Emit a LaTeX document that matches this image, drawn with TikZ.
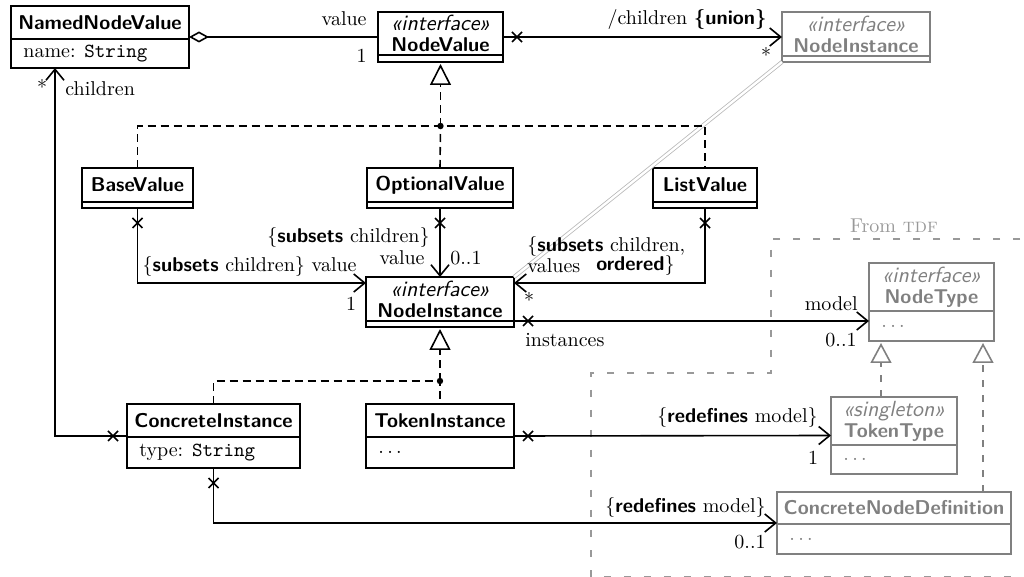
\documentclass[tikz,border=0pt]{standalone}
\usetikzlibrary{arrows.meta,calc}
\definecolor{tdfgray}{gray}{0.5}
\definecolor{framegray}{gray}{0.6}
\definecolor{linkgray}{gray}{0.72}

% A class box: name, left, top, right, divider, bottom, title, attribute
\newcommand{\umlclass}[8]{%
  \node[clsbox, minimum width={(#4-#2)*0.5pt}, minimum height={(#6-#3)*0.5pt}] (#1) at (#2,#3) {};
  \draw[line width=0.8pt] (#2,#5) -- (#4,#5);
  \node[align=center, font=\sffamily, inner sep=0pt] (#1-t) at ({(#2+#4)/2},{(#3+#5)/2}) {#7};
  \node[anchor=west, inner sep=0pt] (#1-a) at ({#2+12},{(#5+#6)/2}) {#8};
}
\newcommand{\stereo}[1]{{\fontsize{10.95}{12}\selectfont\itshape\guillemotleft#1\guillemotright}}
\newcommand{\kw}[1]{\textsf{\bfseries #1}}
\newcommand{\etc}{$\ldots$}

\begin{document}
\begin{tikzpicture}[x=0.5pt,y=-0.5pt,
  clsbox/.style={draw, line width=0.8pt, inner sep=0pt, outer sep=0pt, anchor=north west},
  lnk/.style={line width=0.8pt},
  nav/.style={lnk, -{Straight Barb[length=5.5pt,width=9pt]}},
  dsh/.style={line width=0.8pt, dash pattern=on 4pt off 2.5pt},
  realize/.style={dsh, -{Triangle[open,length=10.5pt,width=10.5pt]}, shorten >=1pt},
  grealize/.style={line width=0.8pt, dash pattern=on 3.5pt off 4pt, -{Triangle[open,length=10pt,width=10.5pt]}, shorten >=1pt},
  lbl/.style={inner sep=0pt},
  xmark/.pic={\draw[line width=0.8pt] (-5,-5) -- (5,5) (-5,5) -- (5,-5);}
]
\useasboundingbox (0,0) rectangle (1024,577);
\clip (0,0) rectangle (1024,577);

% TDF package frame
\draw[framegray, line width=0.8pt, dash pattern=on 3.5pt off 6.5pt]
  (1040,239) -- (771,239) -- (771,373) -- (591,373) -- (591,577) -- (1040,577);
\node[framegray, lbl] (tdf) at (894,226) {From \textsc{tdf}};

% classes
\umlclass{nnv}{11}{6}{189}{39}{68}{\bfseries NamedNodeValue}{name: \texttt{String}}
\umlclass{nv}{378}{12}{503}{55}{62}{\stereo{interface}\\[-1.5pt]\bfseries NodeValue}{}
\umlclass{bv}{82}{168}{193}{202}{208}{\bfseries BaseValue}{}
\umlclass{ov}{367}{168}{513}{202}{208}{\bfseries OptionalValue}{}
\umlclass{lv}{653}{168}{757}{202}{208}{\bfseries ListValue}{}
\umlclass{ni}{366}{277}{514}{321}{327}{\stereo{interface}\\[-1.5pt]\bfseries NodeInstance}{}
\umlclass{ti}{366}{404}{514}{437}{468}{\bfseries TokenInstance}{\etc}
\umlclass{ci}{127}{404}{300}{437}{468}{\bfseries ConcreteInstance}{type: \texttt{String}}
\begin{scope}[color=tdfgray]
\umlclass{gni}{782}{12}{930}{56}{62}{\stereo{interface}\\[-1.5pt]\bfseries NodeInstance}{}
\umlclass{nt}{869}{263}{994}{311}{341}{\stereo{interface}\\[-1.5pt]\bfseries NodeType}{\etc}
\umlclass{tt}{831}{397}{957}{445}{474}{\stereo{singleton}\\[-1.5pt]\bfseries TokenType}{\etc}
\umlclass{cnd}{777}{492}{1011}{524}{554}{\bfseries ConcreteNodeDefinition}{\etc}
\end{scope}

% link between the two NodeInstance boxes
\draw[linkgray, line width=0.4pt, double=white, double distance=1.2pt] (ni.north east) -- (gni.south west);

% NamedNodeValue <>-- NodeValue
\draw[lnk, {Diamond[open,length=10pt,width=5.5pt]}-] (nnv.east) -- (nv.west);
\node[lbl, anchor=east] (l-value) at ($(nv.west)+(-11,-18)$) {value};
\node[lbl, anchor=east] (l-one) at ($(nv.west)+(-11,19)$) {1};

% NodeValue -> NodeInstance (children)
\draw[nav] (nv.east) -- (gni.west);
\pic at ($(nv.east)+(14,0)$) {xmark};
\node[lbl, anchor=east] (l-children) at ($(gni.west)+(-15,-17)$) {/children \kw{\{union\}}};
\node[lbl] (l-star1) at ($(gni.west)+(-16,18)$) {*};

% realizations of NodeValue
\coordinate (j1) at ($(nv.south)+(0,64)$);
\draw[realize] (j1) -- (nv.south);
\draw[dsh] (bv.north) -- (bv.north |- j1) -- (lv.north |- j1) -- (lv.north);
\draw[dsh] (ov.north) -- (j1);
\fill (j1) circle[radius=1.6pt];

% value associations to NodeInstance
\coordinate (ni-l) at ($(ni.north west)+(0,6)$);
\coordinate (ni-r) at ($(ni.north east)+(0,6)$);
\coordinate (ni-d) at ($(ni.south east)+(0,-6)$);

\draw[nav] (bv.south) |- (ni-l);
\pic at ($(bv.south)+(0,15)$) {xmark};
\node[lbl, anchor=east] (l-bv) at ($(ni-l)+(-9,-16)$) {\{\kw{subsets} children\} value};
\node[lbl] (l-bv1) at ($(ni-l)+(-15,21)$) {1};

\draw[nav] (ov.south) -- (ni.north);
\pic at ($(ov.south)+(0,15)$) {xmark};
\node[lbl, anchor=east] (l-ov) at ($(ni.north)+(-10,-39)$) {\{\kw{subsets} children\}};
\node[lbl, anchor=east] (l-ovv) at ($(ni.north)+(-15,-19)$) {value};
\node[lbl, anchor=west] (l-ovm) at ($(ni.north)+(10,-19)$) {0..1};

\draw[nav] (lv.south) |- (ni-r);
\pic at ($(lv.south)+(0,15)$) {xmark};
\node[lbl, anchor=west] (l-lv) at ($(ni-r)+(13,-36)$) {\{\kw{subsets} children,};
\node[lbl, anchor=west] (l-lvv) at ($(ni-r)+(13,-17)$) {values};
\node[lbl, anchor=west] (l-lvo) at ($(ni-r)+(82,-17)$) {\kw{ordered}\}};
\node[lbl] (l-lvs) at ($(ni-r)+(15,17)$) {*};

% realizations of NodeInstance
\coordinate (j2) at ($(ni.south)+(0,54)$);
\draw[realize] (j2) -- (ni.south);
\draw[dsh] (ci.north) -- (ci.north |- j2) -- (j2) -- (ti.north);
\fill (j2) circle[radius=1.6pt];

% NodeInstance -> NodeType
\draw[nav] (ni-d) -- (ni-d -| nt.west);
\pic at ($(ni-d)+(14,0)$) {xmark};
\node[lbl, anchor=east] (l-model) at ($(ni-d -| nt.west)+(-11,-17)$) {model};
\node[lbl, anchor=east] (l-model1) at ($(ni-d -| nt.west)+(-12,19)$) {0..1};
\node[lbl, anchor=west] (l-inst) at ($(ni-d)+(11,19)$) {instances};

% TDF realizations
\coordinate (nt-a) at ($(nt.south west)+(12,0)$);
\coordinate (nt-b) at ($(nt.south east)+(-11,0)$);
\draw[tdfgray, grealize] (tt.north -| nt-a) -- (nt-a);
\draw[tdfgray, grealize] (cnd.north -| nt-b) -- (nt-b);

% TokenInstance -> TokenType
\draw[nav] (ti.east) -- (tt.west);
\pic at ($(ti.east)+(14,0)$) {xmark};
\node[lbl, anchor=east] (l-tt) at ($(tt.west)+(-13,-18)$) {\{\kw{redefines} model\}};
\node[lbl] (l-tt1) at ($(tt.west)+(-18,22)$) {1};

% ConcreteInstance -> ConcreteNodeDefinition
\draw[nav] (ci.south) |- (cnd.west);
\pic at ($(ci.south)+(0,15)$) {xmark};
\node[lbl, anchor=east] (l-cnd) at ($(cnd.west)+(-11,-16)$) {\{\kw{redefines} model\}};
\node[lbl, anchor=east] (l-cnd1) at ($(cnd.west)+(-11,19)$) {0..1};

% ConcreteInstance -> NamedNodeValue (children)
\coordinate (nnv-c) at ($(nnv.south west)+(44,0)$);
\draw[nav] (ci.west) -| (nnv-c);
\pic at ($(ci.west)+(-14,0)$) {xmark};
\node[lbl] (l-cs) at ($(nnv-c)+(-13,19)$) {*};
\node[lbl, anchor=west] (l-cc) at ($(nnv-c)+(10,21)$) {children};
\end{tikzpicture}
\end{document}
